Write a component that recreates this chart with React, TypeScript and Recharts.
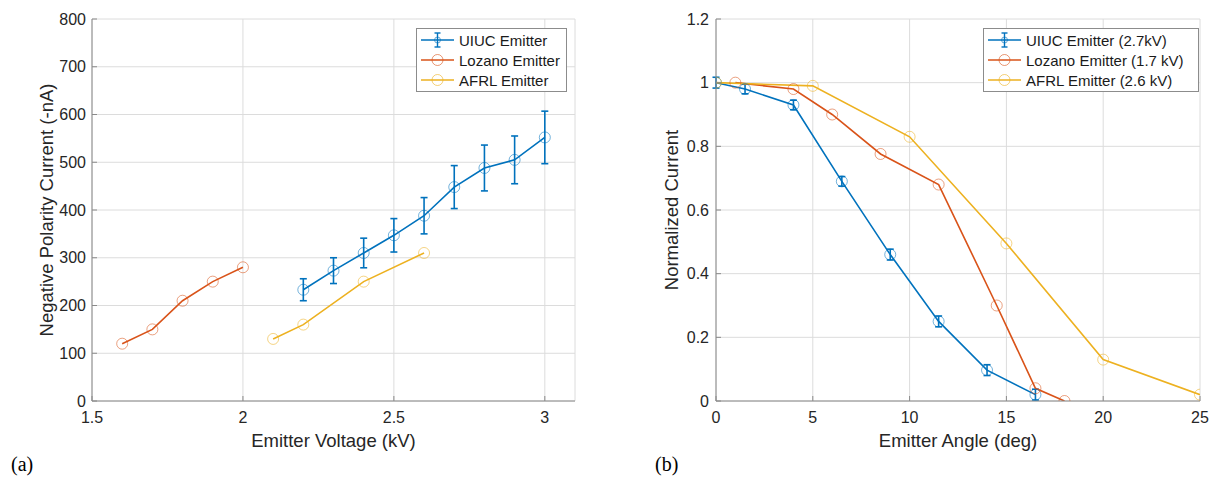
import { LineChart, Line, XAxis, YAxis, CartesianGrid, ErrorBar, Legend, Label } from 'recharts';

// MATLAB default colour order
const BLUE = '#0072BD';
const ORANGE = '#D95319';
const YELLOW = '#EDB120';
const FONT = '"Liberation Sans", Arial, Helvetica, sans-serif';
const INK = '#262626';
const AXIS = '#8a8a8a';

// (a) current vs voltage
const uiucVoltage = [2.2, 2.3, 2.4, 2.5, 2.6, 2.7, 2.8, 2.9, 3.0];
const uiucCurrent = [233, 273, 310, 347, 388, 448, 488, 505, 552];
const uiucCurrentErr = [23, 27, 31, 35, 38, 45, 48, 50, 55];
const lozanoVoltage = [1.6, 1.7, 1.8, 1.9, 2.0];
const lozanoCurrent = [120, 150, 210, 250, 280];
const afrlVoltage = [2.1, 2.2, 2.4, 2.6];
const afrlCurrent = [130, 160, 250, 310];
const voltageTicks = [1.5, 2, 2.5, 3];
const currentTicks = [0, 100, 200, 300, 400, 500, 600, 700, 800];

// (b) normalized current vs angle
const uiucAngle = [0, 1.5, 4, 6.5, 9, 11.5, 14, 16.5];
const uiucNorm = [1.0, 0.98, 0.93, 0.69, 0.46, 0.25, 0.097, 0.02];
const uiucNormErr = [0.017, 0.015, 0.015, 0.015, 0.017, 0.017, 0.017, 0.017];
const lozanoAngle = [1, 4, 6, 8.5, 11.5, 14.5, 16.5, 18];
const lozanoNorm = [1.0, 0.98, 0.9, 0.776, 0.68, 0.3, 0.04, 0.0];
const afrlAngle = [0, 5, 10, 15, 20, 25];
const afrlNorm = [1.0, 0.99, 0.83, 0.495, 0.13, 0.02];
const angleTicks = [0, 5, 10, 15, 20, 25];
const normTicks = [0, 0.2, 0.4, 0.6, 0.8, 1, 1.2];

const rows = (xs: number[], ys: number[], errs?: number[]) =>
  xs.map((x, i) => ({ x, y: ys[i], err: errs ? errs[i] : 0 }));

interface LegendItem {
  label: string;
  color: string;
  err?: boolean;
}

function LegendBox({ items, width }: { items: LegendItem[]; width: number }) {
  return (
    <div
      style={{
        border: '1px solid #8c8c8c',
        background: '#fff',
        padding: '1px 4px',
        width,
        boxSizing: 'border-box',
        fontFamily: FONT,
        fontSize: 15,
        color: '#1a1a1a',
      }}
    >
      {items.map((it) => (
        <div key={it.label} style={{ display: 'flex', alignItems: 'center', height: 20 }}>
          <svg width={33} height={20} style={{ flex: 'none' }}>
            <line x1={0} x2={33} y1={10} y2={10} stroke={it.color} strokeWidth={1.6} />
            {it.err ? (
              <g stroke={it.color} strokeWidth={1.4}>
                <line x1={16.5} x2={16.5} y1={3} y2={17} />
                <line x1={13.5} x2={19.5} y1={3} y2={3} />
                <line x1={13.5} x2={19.5} y1={17} y2={17} />
              </g>
            ) : null}
            <circle cx={16.5} cy={10} r={it.err ? 3 : 5.5} fill="none" stroke={it.color} strokeOpacity={0.6} />
          </svg>
          <span style={{ marginLeft: 5, whiteSpace: 'nowrap' }}>{it.label}</span>
        </div>
      ))}
    </div>
  );
}

const tickStyle = { fill: INK, fontSize: 16, fontFamily: FONT };
const titleStyle = { fill: INK, fontSize: 18.5, fontFamily: FONT };
const tickLineStyle = { stroke: AXIS };
const dotStyle = (color: string) => ({ r: 5.5, fill: 'none', stroke: color, strokeWidth: 1, strokeOpacity: 0.55 });

function PanelA() {
  return (
    <LineChart width={600} height={483} margin={{ top: 19, right: 25, bottom: 4, left: 0 }}>
      <CartesianGrid stroke="#dcdcdc" strokeWidth={1} />
      <XAxis
        type="number"
        dataKey="x"
        domain={[1.5, 3.1]}
        ticks={voltageTicks}
        interval={0}
        height={78}
        allowDataOverflow
        tick={tickStyle}
        tickLine={tickLineStyle}
        tickSize={-5}
        tickMargin={16}
        stroke={AXIS}
      >
        <Label value="Emitter Voltage (kV)" position="center" style={titleStyle} />
      </XAxis>
      <YAxis
        type="number"
        domain={[0, 800]}
        ticks={currentTicks}
        interval={0}
        width={92}
        allowDataOverflow
        tick={tickStyle}
        tickLine={tickLineStyle}
        tickSize={-5}
        tickMargin={11}
        stroke={AXIS}
      >
        <Label value="Negative Polarity Current (-nA)" position="center" angle={-90} style={titleStyle} />
      </YAxis>
      <Line
        data={rows(uiucVoltage, uiucCurrent, uiucCurrentErr)}
        dataKey="y"
        name="UIUC Emitter"
        stroke={BLUE}
        strokeWidth={1.6}
        dot={dotStyle(BLUE)}
        activeDot={false}
        isAnimationActive={false}
      >
        <ErrorBar dataKey="err" direction="y" width={3.5} stroke={BLUE} strokeWidth={1.6} isAnimationActive={false} />
      </Line>
      <Line
        data={rows(lozanoVoltage, lozanoCurrent)}
        dataKey="y"
        name="Lozano Emitter"
        stroke={ORANGE}
        strokeWidth={1.6}
        dot={dotStyle(ORANGE)}
        activeDot={false}
        isAnimationActive={false}
      />
      <Line
        data={rows(afrlVoltage, afrlCurrent)}
        dataKey="y"
        name="AFRL Emitter"
        stroke={YELLOW}
        strokeWidth={1.6}
        dot={dotStyle(YELLOW)}
        activeDot={false}
        isAnimationActive={false}
      />
      <Legend
        layout="vertical"
        align="center"
        verticalAlign="middle"
        wrapperStyle={{ top: 28, left: 416, width: 151 }}
        content={() => (
          <LegendBox
            width={151}
            items={[
              { label: 'UIUC Emitter', color: BLUE, err: true },
              { label: 'Lozano Emitter', color: ORANGE },
              { label: 'AFRL Emitter', color: YELLOW },
            ]}
          />
        )}
      />
    </LineChart>
  );
}

function PanelB() {
  return (
    <LineChart width={585} height={483} margin={{ top: 19, right: 11, bottom: 4, left: 0 }}>
      <CartesianGrid stroke="#dcdcdc" strokeWidth={1} />
      <XAxis
        type="number"
        dataKey="x"
        domain={[0, 25]}
        ticks={angleTicks}
        interval={0}
        height={78}
        allowDataOverflow
        tick={tickStyle}
        tickLine={tickLineStyle}
        tickSize={-5}
        tickMargin={16}
        stroke={AXIS}
      >
        <Label value="Emitter Angle (deg)" position="center" style={titleStyle} />
      </XAxis>
      <YAxis
        type="number"
        domain={[0, 1.2]}
        ticks={normTicks}
        interval={0}
        width={90}
        allowDataOverflow
        tick={tickStyle}
        tickLine={tickLineStyle}
        tickSize={-5}
        tickMargin={12}
        stroke={AXIS}
      >
        <Label value="Normalized Current" position="center" angle={-90} style={titleStyle} />
      </YAxis>
      <Line
        data={rows(uiucAngle, uiucNorm, uiucNormErr)}
        dataKey="y"
        name="UIUC Emitter (2.7kV)"
        stroke={BLUE}
        strokeWidth={1.6}
        dot={dotStyle(BLUE)}
        activeDot={false}
        isAnimationActive={false}
      >
        <ErrorBar dataKey="err" direction="y" width={3.5} stroke={BLUE} strokeWidth={1.6} isAnimationActive={false} />
      </Line>
      <Line
        data={rows(lozanoAngle, lozanoNorm)}
        dataKey="y"
        name="Lozano Emitter (1.7 kV)"
        stroke={ORANGE}
        strokeWidth={1.6}
        dot={dotStyle(ORANGE)}
        activeDot={false}
        isAnimationActive={false}
      />
      <Line
        data={rows(afrlAngle, afrlNorm)}
        dataKey="y"
        name="AFRL Emitter (2.6 kV)"
        stroke={YELLOW}
        strokeWidth={1.6}
        dot={dotStyle(YELLOW)}
        activeDot={false}
        isAnimationActive={false}
      />
      <Legend
        layout="vertical"
        align="center"
        verticalAlign="middle"
        wrapperStyle={{ top: 28, left: 357, width: 216 }}
        content={() => (
          <LegendBox
            width={216}
            items={[
              { label: 'UIUC Emitter (2.7kV)', color: BLUE, err: true },
              { label: 'Lozano Emitter (1.7 kV)', color: ORANGE },
              { label: 'AFRL Emitter (2.6 kV)', color: YELLOW },
            ]}
          />
        )}
      />
    </LineChart>
  );
}

const panelTag = { position: 'absolute' as const, top: 453, fontFamily: '"Liberation Serif", "Times New Roman", serif', fontSize: 20, color: '#000' };

export default function App() {
  return (
    <div style={{ position: 'absolute', left: 0, top: 0, width: 1211, height: 483, background: '#fff', overflow: 'hidden' }}>
      <div style={{ position: 'absolute', left: 0, top: 0 }}>
        <PanelA />
      </div>
      <div style={{ position: 'absolute', left: 626, top: 0 }}>
        <PanelB />
      </div>
      <div style={{ ...panelTag, left: 11 }}>(a)</div>
      <div style={{ ...panelTag, left: 655 }}>(b)</div>
    </div>
  );
}
